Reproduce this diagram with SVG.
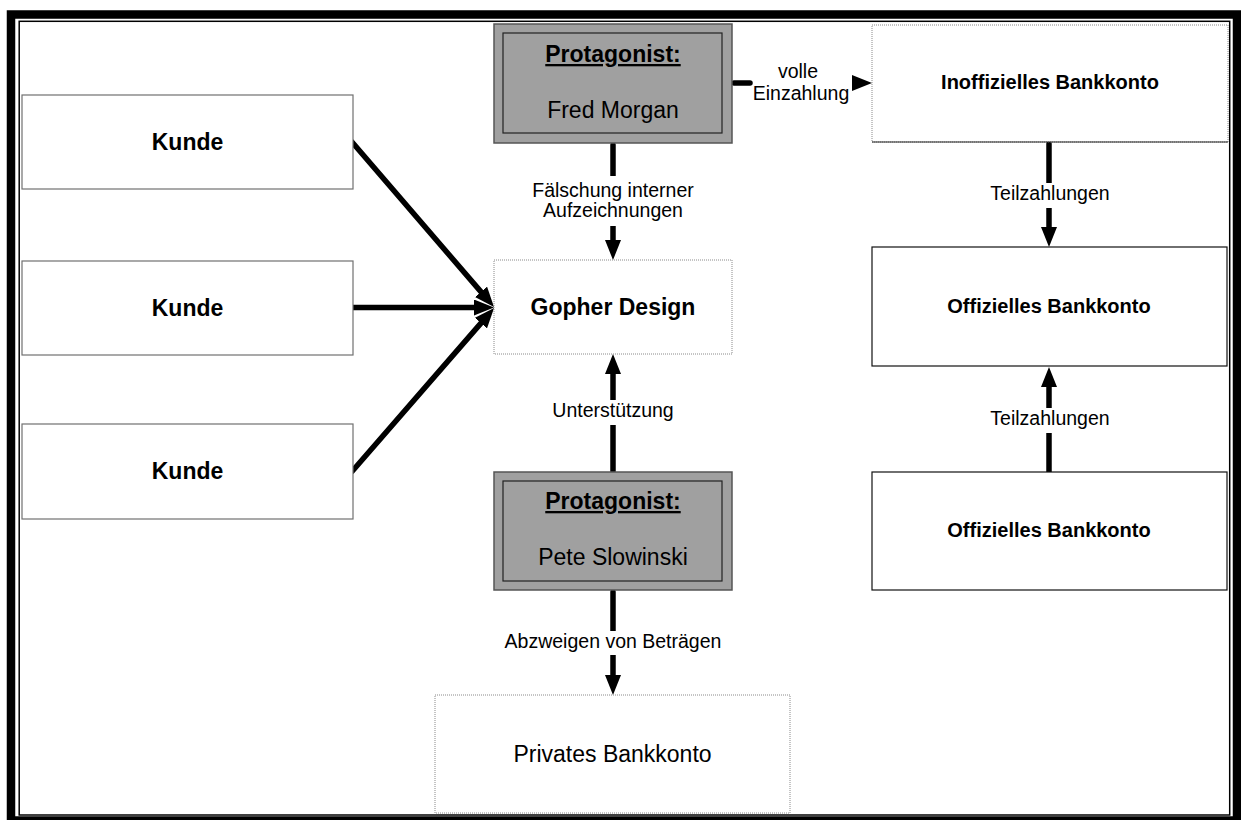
<svg xmlns="http://www.w3.org/2000/svg" width="1241" height="820" viewBox="0 0 1241 820">
  <style>
    .box { fill: #ffffff; stroke: #707070; stroke-width: 1.2; }
    .dotbox { fill: #ffffff; stroke: #8a8a8a; stroke-width: 1; stroke-dasharray: 1 1; }
    .solidbox { fill: #ffffff; stroke: #111111; stroke-width: 1.2; }
    .proto-out { fill: #a0a0a0; stroke: #555555; stroke-width: 1.5; }
    .proto-in { fill: #a0a0a0; stroke: #222222; stroke-width: 1.2; }
    .t { font-family: "Liberation Sans", Arial, sans-serif; fill: #000000; text-anchor: middle; }
    .b23 { font-size: 23px; font-weight: bold; }
    .r23 { font-size: 23px; }
    .b20 { font-size: 20px; font-weight: bold; }
    .lbl { font-size: 19.5px; }
    .edge { stroke: #000000; stroke-width: 5.5; stroke-linecap: round; fill: none; marker-end: url(#arrow); }
    .plain { stroke: #000000; stroke-width: 5.5; stroke-linecap: round; fill: none; }
    .bg { fill: #ffffff; }
  </style>
  <defs>
    <marker id="arrow" markerUnits="userSpaceOnUse" markerWidth="20" markerHeight="16" viewBox="0 0 20 16" refX="8" refY="8" orient="auto">
      <path d="M0,0 L20,8 L0,16 z" fill="#000000"/>
    </marker>
  </defs>

  <rect width="1241" height="820" fill="#ffffff"/>

  <!-- page frame: heavy outer rule with a thin inner rule -->
  <g id="frame" fill="none" stroke="#000000">
    <rect x="11" y="14.5" width="1226" height="806" stroke-width="8.5"/>
    <rect x="19.2" y="21.3" width="1210.5" height="793.7" stroke-width="1.5"/>
  </g>

  <!-- connectors -->
  <g id="connectors">
    <!-- customers into Gopher Design -->
    <line class="edge" x1="352" y1="142" x2="486.2" y2="297.9"/>
    <line class="edge" x1="353" y1="307.5" x2="482" y2="307.5"/>
    <line class="edge" x1="352" y1="471.5" x2="486.2" y2="317.1"/>

    <!-- Fred Morgan down to Gopher Design -->
    <line class="edge" x1="613" y1="145" x2="613" y2="248"/>
    <rect class="bg" x="522" y="176" width="182" height="50"/>
    <text class="t lbl" x="613" y="197">Fälschung interner</text>
    <text class="t lbl" x="613" y="217">Aufzeichnungen</text>

    <!-- Pete Slowinski up to Gopher Design -->
    <line class="edge" x1="613" y1="471" x2="613" y2="366"/>
    <rect class="bg" x="545" y="400" width="136" height="25"/>
    <text class="t lbl" x="613" y="417">Unterstützung</text>

    <!-- Pete Slowinski down to private account -->
    <line class="edge" x1="613" y1="592" x2="613" y2="683"/>
    <rect class="bg" x="496" y="631" width="234" height="24"/>
    <text class="t lbl" x="613" y="648">Abzweigen von Beträgen</text>

    <!-- Fred Morgan to unofficial account -->
    <line class="plain" x1="734" y1="83" x2="750" y2="83"/>
    <line x1="853" y1="83" x2="860" y2="83" stroke="#000000" stroke-width="5" marker-end="url(#arrow)"/>
    <text class="t lbl" x="798" y="78">volle</text>
    <text class="t lbl" x="801" y="100">Einzahlung</text>

    <!-- unofficial account to official account -->
    <line class="edge" x1="1049" y1="144" x2="1049" y2="235"/>
    <rect class="bg" x="985" y="183" width="130" height="25"/>
    <text class="t lbl" x="1050" y="200">Teilzahlungen</text>

    <!-- second official account up to first -->
    <line class="edge" x1="1049" y1="472" x2="1049" y2="379"/>
    <rect class="bg" x="985" y="408" width="130" height="25"/>
    <text class="t lbl" x="1050" y="425">Teilzahlungen</text>
  </g>

  <g id="kunde-1">
    <rect class="box" x="22" y="95" width="331" height="94"/>
    <text class="t b23" x="187.5" y="150">Kunde</text>
  </g>
  <g id="kunde-2">
    <rect class="box" x="22" y="261" width="331" height="94"/>
    <text class="t b23" x="187.5" y="316">Kunde</text>
  </g>
  <g id="kunde-3">
    <rect class="box" x="22" y="424" width="331" height="95"/>
    <text class="t b23" x="187.5" y="479">Kunde</text>
  </g>

  <g id="gopher-design">
    <rect class="dotbox" x="494" y="260" width="238" height="94"/>
    <text class="t b23" x="613" y="315">Gopher Design</text>
  </g>

  <g id="fred-morgan">
    <rect class="proto-out" x="494" y="24" width="238" height="119"/>
    <rect class="proto-in" x="503" y="33" width="219" height="100"/>
    <text class="t b23" x="613" y="62" text-decoration="underline">Protagonist:</text>
    <text class="t r23" x="613" y="118">Fred Morgan</text>
  </g>

  <g id="pete-slowinski">
    <rect class="proto-out" x="494" y="472" width="238" height="118"/>
    <rect class="proto-in" x="503" y="481" width="219" height="100"/>
    <text class="t b23" x="613" y="509" text-decoration="underline">Protagonist:</text>
    <text class="t r23" x="613" y="565">Pete Slowinski</text>
  </g>

  <g id="privates-bankkonto">
    <rect class="dotbox" x="435" y="695" width="355" height="118"/>
    <text class="t r23" x="612.5" y="762">Privates Bankkonto</text>
  </g>

  <g id="inoffizielles-bankkonto">
    <rect class="dotbox" x="872" y="25" width="356" height="117"/>
    <line x1="872" y1="142" x2="1228" y2="142" stroke="#222222" stroke-width="1.2"/>
    <text class="t b20" x="1050" y="89">Inoffizielles Bankkonto</text>
  </g>

  <g id="offizielles-bankkonto-1">
    <rect class="solidbox" x="872" y="247" width="355" height="119"/>
    <text class="t b20" x="1049" y="313">Offizielles Bankkonto</text>
  </g>

  <g id="offizielles-bankkonto-2">
    <rect class="solidbox" x="872" y="472" width="355" height="118"/>
    <text class="t b20" x="1049" y="537">Offizielles Bankkonto</text>
  </g>
</svg>
